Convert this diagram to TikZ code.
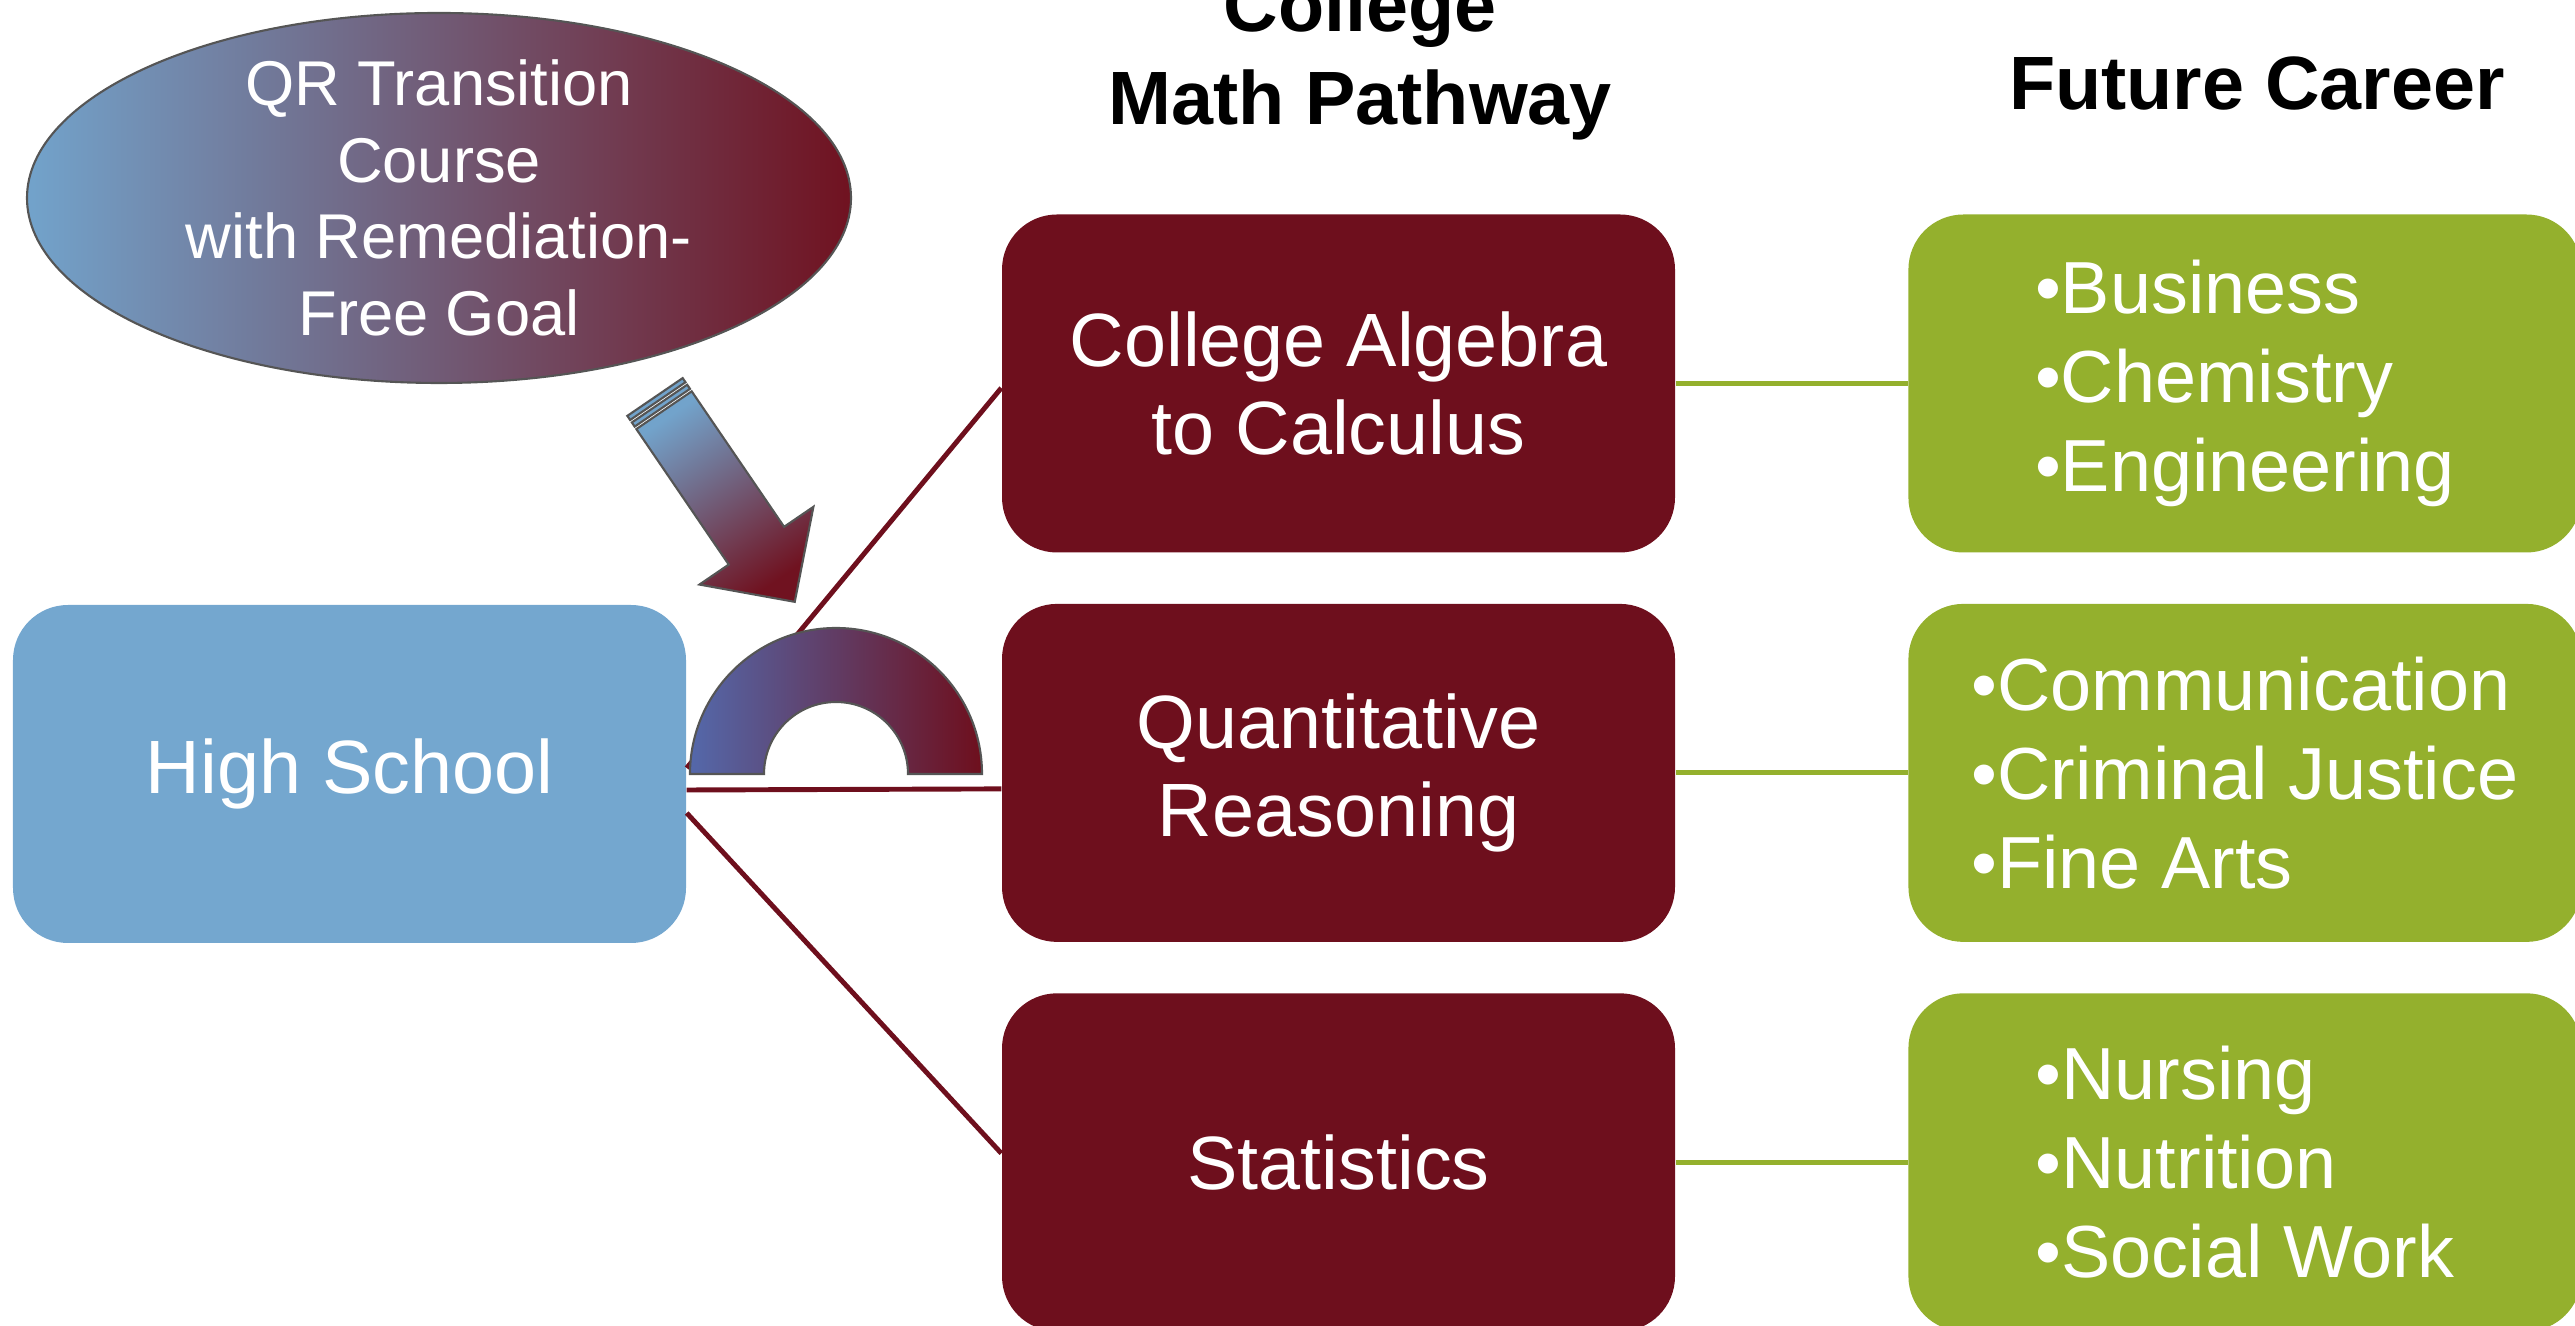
\documentclass[tikz,border=0pt]{standalone}
\usepackage{fontspec}
\setmainfont{Liberation Sans}
\usepackage{xcolor}
\usepackage{tikz}
\usetikzlibrary{positioning,shapes.geometric,calc}

\definecolor{hsblue}{RGB}{116,167,207}
\definecolor{pathred}{RGB}{110,15,29}
\definecolor{careergreen}{RGB}{148,176,45}
\definecolor{qrblue}{RGB}{114,163,203}
\definecolor{qrred}{RGB}{112,18,32}
\definecolor{arcblue}{RGB}{84,104,170}
\definecolor{edgegray}{RGB}{85,85,85}

\begin{document}
\begin{tikzpicture}[
    node distance=0.5cm and 2.32cm,
    every node/.style={font=\fontsize{21.5}{25}\selectfont},
    stagebox/.style={rounded corners=0.55cm, minimum width=6.73cm,
                     minimum height=3.38cm, align=center, text=white,
                     inner sep=0pt},
    pathbox/.style={stagebox, fill=pathred},
    careerbox/.style={stagebox, fill=careergreen, align=left,
                      font=\fontsize{21}{25.4}\selectfont},
    heading/.style={font=\fontsize{21.5}{26.5}\selectfont\bfseries,
                    align=center, inner sep=0pt},
    link/.style={draw=pathred, line width=1.4pt},
    careerlink/.style={draw=careergreen, line width=1.4pt},
    outline/.style={draw=edgegray, line width=0.6pt},
]

\useasboundingbox (0,0) rectangle (25.75,13.25);

% --- Start ---
\node[stagebox, fill=hsblue] (hs) at (3.495,5.51) {High School};

% --- Math pathways ---
\node[pathbox] (alg) at (13.385,9.415) {College Algebra\\to Calculus};
\node[pathbox, below=of alg] (qrc) {Quantitative\\Reasoning};
\node[pathbox, below=of qrc] (stat) {Statistics};

% --- Careers ---
\node[careerbox, right=of alg] (bus) {•Business\\•Chemistry\\•Engineering};
\node[careerbox, right=of qrc] (comm) {•Communication\\•Criminal Justice\\•Fine Arts};
\node[careerbox, right=of stat] (nurse) {•Nursing\\•Nutrition\\•Social Work};

% --- Headings ---
\node[heading, anchor=south] (pathhead) at (13.60,11.84) {College\\Math Pathway};
\node[heading, anchor=base] (careerhead) at (22.57,12.15) {Future Career};

% --- Connectors ---
\draw[link] ([yshift=0.06cm]hs.east) -- ([yshift=-0.045cm]alg.west);
\draw[link] ([yshift=-0.16cm]hs.east) -- ([yshift=-0.16cm]qrc.west);
\draw[link] ([yshift=-0.39cm]hs.east) -- ([yshift=0.09cm]stat.west);

\draw[careerlink] (alg) -- (bus);
\draw[careerlink] (qrc) -- (comm);
\draw[careerlink] (stat) -- (nurse);

% --- QR bridge ---
\draw[outline, left color=arcblue, right color=pathred]
    (6.90,5.51) arc[start angle=180, end angle=0, radius=1.46]
    -- (9.08,5.51) arc[start angle=0, end angle=180, radius=0.72] -- cycle;

% --- Transition course ---
\node[ellipse, outline, left color=qrblue, right color=qrred,
      minimum width=8.24cm, minimum height=3.70cm, align=center,
      text=white, inner xsep=0pt, inner ysep=-0.12cm,
      font=\fontsize{18}{21.8}\selectfont]
    (trans) at (4.39,11.27)
    {QR Transition\\Course\\with Remediation-\\Free Goal};

% --- Striped arrow ---
\begin{scope}[shift={(6.55,9.28)}, rotate=-55.7]
  \filldraw[outline, fill=qrblue] (0,-0.335) rectangle (0.05,0.335);
  \filldraw[outline, fill=qrblue] (0.08,-0.335) rectangle (0.13,0.335);
  \draw[outline, top color=qrblue, bottom color=qrred, shading angle=34]
    (0.16,-0.335) -- (1.80,-0.335) -- (1.80,-0.69) -- (2.48,0)
    -- (1.80,0.69) -- (1.80,0.335) -- (0.16,0.335) -- cycle;
\end{scope}

\end{tikzpicture}
\end{document}
